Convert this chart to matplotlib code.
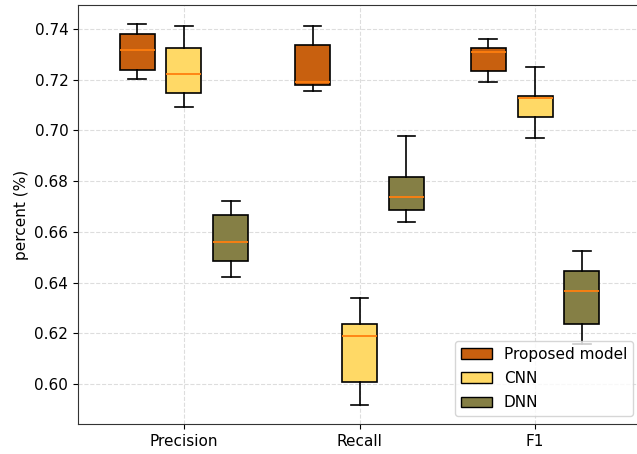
import numpy as np
import matplotlib.pyplot as plt
from matplotlib.patches import Patch

metrics = ['Precision', 'Recall', 'F1']
models = ['Proposed model', 'CNN', 'DNN']
colors = ['#c8600f', '#ffd966', '#857f45']

# box stats: whislo, q1, med, q3, whishi
proposed = [
    [0.7203, 0.7238, 0.7316, 0.7382, 0.7422],
    [0.7157, 0.7179, 0.7192, 0.7337, 0.7412],
    [0.7190, 0.7234, 0.7308, 0.7324, 0.7359],
]
cnn = [
    [0.7091, 0.7149, 0.7223, 0.7326, 0.7412],
    [0.5918, 0.6008, 0.6189, 0.6238, 0.6340],
    [0.6970, 0.7054, 0.7129, 0.7136, 0.7251],
]
dnn = [
    [0.6421, 0.6486, 0.6560, 0.6665, 0.6720],
    [0.6640, 0.6687, 0.6739, 0.6818, 0.6979],
    [0.6158, 0.6237, 0.6367, 0.6447, 0.6523],
]

fig = plt.figure(figsize=(6.37, 4.54), dpi=100)
ax = fig.add_axes([78/637, 30/454, (641-78)/637, (424-5)/454])

centers = np.arange(len(metrics)) * 3
offsets = [-0.8, 0, 0.8]
for k, (data, col) in enumerate(zip([proposed, cnn, dnn], colors)):
    stats = []
    for lo, q1, med, q3, hi in data:
        stats.append(dict(whislo=lo, q1=q1, med=med, q3=q3, whishi=hi, fliers=[]))
    bp = ax.bxp(stats, positions=centers + offsets[k], widths=0.6,
                patch_artist=True, showfliers=False, manage_ticks=False)
    for box in bp['boxes']:
        box.set_facecolor(col)
        box.set_edgecolor('black')
        box.set_linewidth(1.2)
    for line in bp['whiskers'] + bp['caps']:
        line.set_linewidth(1.2)
    for med in bp['medians']:
        med.set_color('#ff7f0e')
        med.set_linewidth(1.3)

ax.set_xticks(centers)
ax.set_xticklabels(metrics, fontsize=11)
ax.set_xlim(-1.81, 7.81)
ax.set_ylim(0.5842, 0.7495)
yt = np.arange(0.60, 0.741, 0.02)
ax.set_yticks(yt)
ax.set_yticklabels(['%.2f' % v for v in yt], fontsize=11)
ax.set_ylabel('percent (%)', fontsize=11)
ax.grid(True, linestyle='--', color='#dddddd', linewidth=0.8)
ax.set_axisbelow(True)
for s in ax.spines.values():
    s.set_color('#333333')

handles = [Patch(facecolor=c, edgecolor='black', label=m) for c, m in zip(colors, models)]
ax.legend(handles=handles, loc='lower right', fontsize=11, labelspacing=0.6)

fig.savefig('out.png', dpi=100)
